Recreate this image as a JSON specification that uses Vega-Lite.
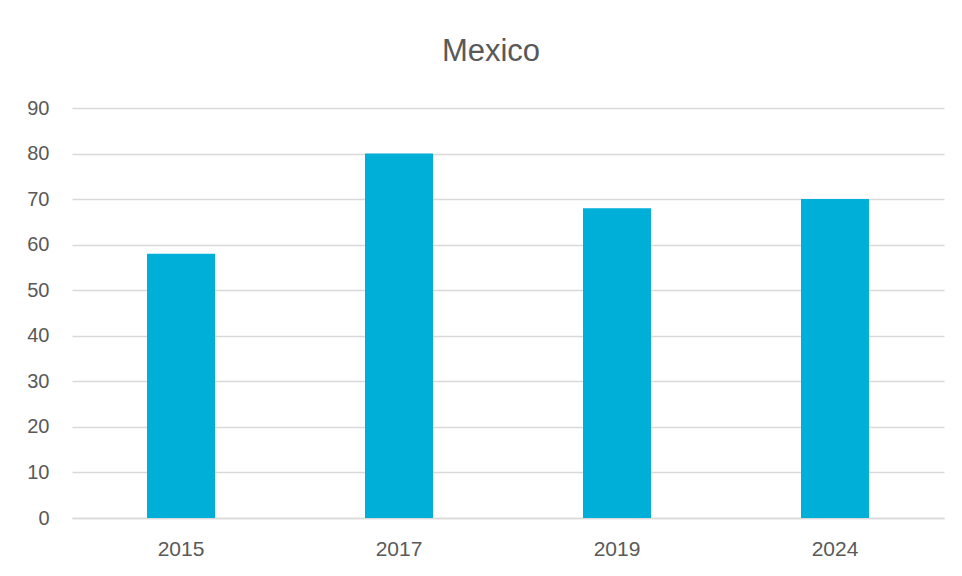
{
  "$schema": "https://vega.github.io/schema/vega-lite/v6.json",
  "autosize": {"type": "none"},
  "width": 872,
  "height": 410,
  "padding": {"left": 72, "top": 108, "right": 18, "bottom": 58},
  "background": "white",
  "title": {
    "text": "Mexico",
    "anchor": "middle",
    "frame": "group",
    "dx": -17,
    "baseline": "alphabetic",
    "offset": 6,
    "font": "Liberation Sans",
    "fontSize": 31,
    "fontWeight": "normal",
    "color": "#595959"
  },
  "data": {
    "values": [
      {"year": "2015", "value": 58},
      {"year": "2017", "value": 80},
      {"year": "2019", "value": 68},
      {"year": "2024", "value": 70}
    ]
  },
  "mark": {"type": "bar", "color": "#00AFD8"},
  "encoding": {
    "x": {
      "field": "year",
      "type": "nominal",
      "sort": null,
      "scale": {"paddingInner": 0.688, "paddingOuter": 0.344},
      "axis": {
        "title": null,
        "labelAngle": 0,
        "ticks": false,
        "tickSize": 0,
        "domain": true,
        "domainColor": "#d9d9d9",
        "domainWidth": 1.5,
        "labelPadding": 20,
        "labelFont": "Liberation Sans",
        "labelFontSize": 21,
        "labelColor": "#595959"
      }
    },
    "y": {
      "field": "value",
      "type": "quantitative",
      "scale": {"domain": [0, 90]},
      "axis": {
        "title": null,
        "values": [0, 10, 20, 30, 40, 50, 60, 70, 80, 90],
        "ticks": false,
        "tickSize": 0,
        "domain": false,
        "grid": true,
        "gridColor": "#d9d9d9",
        "gridWidth": 1.5,
        "labelPadding": 23,
        "labelFont": "Liberation Sans",
        "labelFontSize": 20,
        "labelColor": "#595959"
      }
    }
  },
  "config": {"view": {"stroke": null}}
}
